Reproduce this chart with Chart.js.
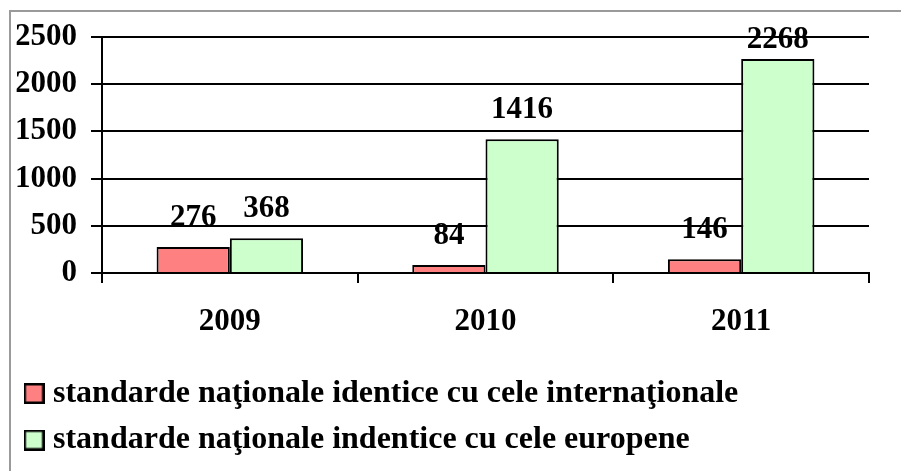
<!DOCTYPE html>
<html><head><meta charset="utf-8">
<style>html,body{margin:0;padding:0;background:#fff;overflow:hidden;} #wrap{position:relative;width:901px;height:471px;}</style>
<script src="https://cdn.jsdelivr.net/npm/chart.js@4/dist/chart.umd.min.js"></script>
</head><body><div id="wrap"><canvas id="c" width="901" height="471"></canvas></div>
<script>
const categories = ['2009', '2010', '2011'];
const seriesNames = ['standarde naţionale identice cu cele internaţionale', 'standarde naţionale indentice cu cele europene'];
const internationalValues = [276, 84, 146];
const europeanValues = [368, 1416, 2268];
const yTicks = [0, 500, 1000, 1500, 2000, 2500];
const seriesColors = ['#FF8080', '#CCFFCC'];

const FONT = "'Liberation Serif', 'Times New Roman', serif";

function legendSwatch(color) {
  const cv = document.createElement('canvas');
  cv.width = 21; cv.height = 21;
  const g = cv.getContext('2d');
  g.fillStyle = color; g.fillRect(0, 0, 21, 21);
  g.strokeStyle = '#000'; g.lineWidth = 2.5; g.strokeRect(1.25, 1.25, 18.5, 18.5);
  return cv;
}
const swatches = seriesColors.map(legendSwatch);

const framePlugin = {
  id: 'frame',
  beforeDraw(chart) {
    const ctx = chart.ctx;
    ctx.save();
    ctx.fillStyle = '#fff';
    ctx.fillRect(0, 0, chart.width, chart.height);
    ctx.fillStyle = '#9a9a9a';
    ctx.fillRect(9, 10, chart.width - 9, 2);
    ctx.fillRect(9, 10, 2, chart.height - 10);
    ctx.restore();
  }
};

const valueLabels = {
  id: 'valueLabels',
  afterDatasetsDraw(chart) {
    const ctx = chart.ctx;
    const top = chart.chartArea.top;
    ctx.save();
    ctx.font = 'bold 31px ' + FONT;
    ctx.fillStyle = '#000';
    ctx.textAlign = 'center';
    ctx.textBaseline = 'alphabetic';
    chart.data.datasets.forEach((ds, i) => {
      chart.getDatasetMeta(i).data.forEach((bar, j) => {
        const y = Math.max(bar.y - 21, top + 11);
        ctx.fillText(String(ds.data[j]), bar.x, y);
      });
    });
    ctx.restore();
  }
};

new Chart(document.getElementById('c'), {
  type: 'bar',
  data: {
    labels: categories,
    datasets: [
      { label: seriesNames[0], data: internationalValues, backgroundColor: seriesColors[0], borderColor: '#000', borderWidth: 2, categoryPercentage: 0.573, barPercentage: 1.0 },
      { label: seriesNames[1], data: europeanValues, backgroundColor: seriesColors[1], borderColor: '#000', borderWidth: 2, categoryPercentage: 0.573, barPercentage: 1.0 }
    ]
  },
  options: {
    responsive: false,
    devicePixelRatio: 1,
    animation: false,
    layout: { padding: { left: 16.5, right: 32, top: 37, bottom: 5 } },
    scales: {
      x: {
        offset: true,
        grid: { display: true, offset: true, drawOnChartArea: false, drawTicks: true, tickLength: 10, color: '#000', lineWidth: 2 },
        border: { display: true, color: '#000', width: 2 },
        ticks: { color: '#000', padding: 20, font: { family: FONT, size: 31, weight: 'bold' }, maxRotation: 0 },
        afterFit(s) { s.height = 90; }
      },
      y: {
        min: 0, max: 2500,
        afterBuildTicks(s) { s.ticks = yTicks.map(v => ({ value: v })); },
        grid: { color: '#000', lineWidth: 2, drawTicks: true, tickLength: 11 },
        border: { display: true, color: '#000', width: 2 },
        ticks: { color: '#000', padding: 14, font: { family: FONT, size: 31, weight: 'bold' }, callback: v => String(v) },
        afterFit(s) { s.width = 85.5; }
      }
    },
    plugins: {
      tooltip: { enabled: false },
      legend: {
        position: 'bottom',
        align: 'start',
        labels: {
          usePointStyle: true,
          pointStyleWidth: 6,
          boxHeight: 21,
          padding: 14.5,
          color: '#000',
          font: { family: FONT, size: 32, weight: 'bold' },
          generateLabels(chart) {
            const items = Chart.defaults.plugins.legend.labels.generateLabels(chart);
            items.forEach((it, i) => { it.pointStyle = swatches[i]; });
            return items;
          }
        }
      }
    }
  },
  plugins: [framePlugin, valueLabels]
});
</script>
</body></html>
